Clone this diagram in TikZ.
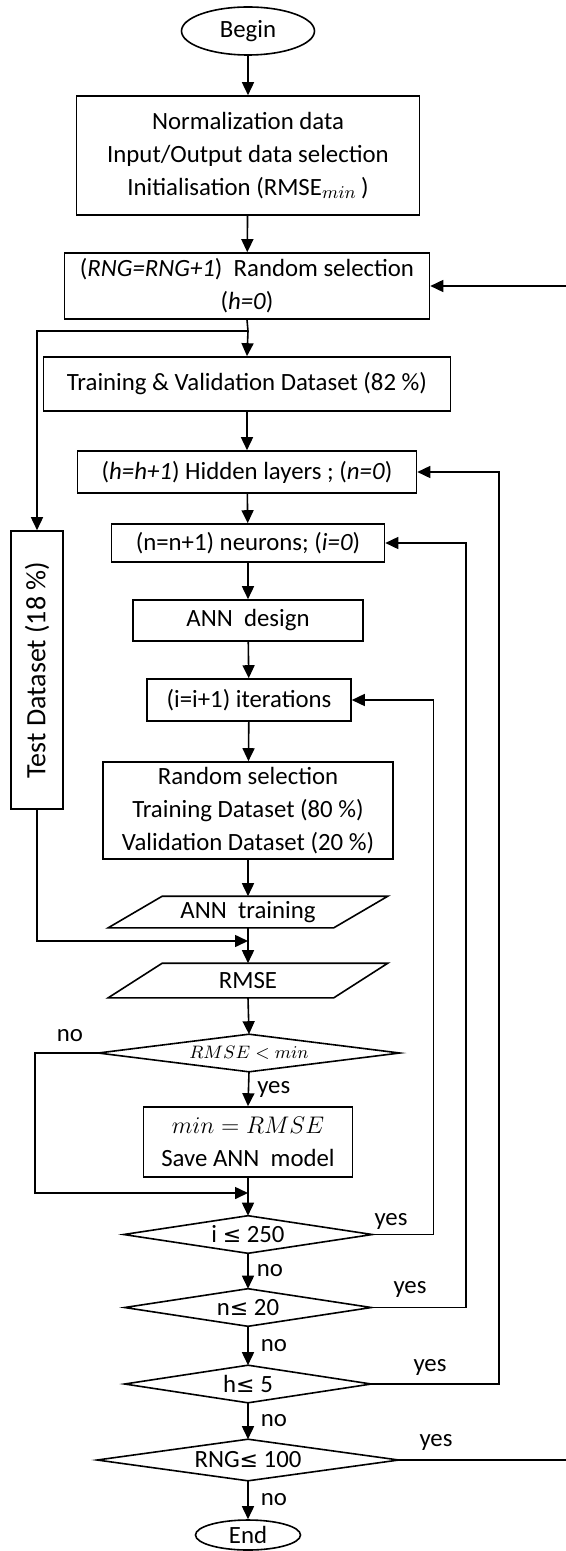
\documentclass[tikz,border=0pt]{standalone}
\usepackage{fontspec}
\setmainfont{Carlito}
\newfontfamily\symfont{DejaVu Sans}
\usetikzlibrary{shapes.geometric,arrows.meta,calc}

% less-or-equal sign taken from DejaVu Sans
\newcommand{\leqsym}{{\symfont\fontsize{11}{12}\selectfont ≤}}
% outline of a decision node through its four side anchors
\newcommand{\rhomb}[1]{\draw (#1.west) -- (#1.north) -- (#1.east) -- (#1.south) -- cycle;}
% outline of a data node, slanted by 27 units
\newcommand{\slab}[1]{\draw ($(#1.north west)+(27,0)$) -- ($(#1.north east)+(27,0)$)
   -- ($(#1.south east)+(-27,0)$) -- ($(#1.south west)+(-27,0)$) -- cycle;}

\begin{document}
\begin{tikzpicture}[x=0.5pt,y=-0.5pt,
  line width=0.8pt,
  font=\fontsize{12.4}{16.5}\selectfont,
  arr/.style={-{Triangle[length=6.5pt,width=6pt]}},
  box/.style={draw, rectangle, inner sep=0pt, align=center},
  term/.style={draw, ellipse, inner sep=0pt},
  cond/.style={rectangle, inner sep=0pt},
  para/.style={rectangle, inner sep=0pt},
  lbl/.style={inner sep=0pt}]

\useasboundingbox (0,0) rectangle (566,1551);

% terminals and process boxes
\node[term, minimum width=66.5pt, minimum height=24pt] (begin) at (248,31) {Begin};
\node[box, minimum width=171.5pt, minimum height=59.5pt] (init) at (248,155.5)
  {Normalization data\\Input/Output data selection\\Initialisation (RMSE$_{min}$\,)};
\node[box, minimum width=182.5pt, minimum height=33pt] (rng) at (247,286)
  {(\textit{RNG=RNG+1})\ \ Random selection\\(\textit{h=0})};
\node[box, minimum width=203.5pt, minimum height=27pt] (tv) at (247,384)
  {Training \& Validation Dataset (82 \%)};
\node[box, minimum width=169.5pt, minimum height=21pt] (hid) at (247,472)
  {(\textit{h=h+1}) Hidden layers ; (\textit{n=0})};
\node[box, minimum width=136.5pt, minimum height=19pt] (neu) at (248,543)
  {(n=n+1)\ neurons; (\textit{i=0})};
\node[box, minimum width=115pt, minimum height=20.5pt] (design) at (248,620.5)
  {ANN\ \ design};
\node[box, minimum width=102pt, minimum height=21pt] (iter) at (249,700)
  {(i=i+1) iterations};
\node[box, minimum width=145pt, minimum height=48.5pt] (rsel) at (248,810.5)
  {Random selection\\Training Dataset (80 \%)\\Validation Dataset (20 \%)};
\node[box, rotate=90, minimum width=139pt, minimum height=26pt,
      font=\fontsize{14}{16}\selectfont] (test) at (37,670)
  {Test Dataset (18 \%)};

% input/output parallelograms
\node[para, minimum width=112pt, minimum height=15pt] (train) at (248,912) {ANN\ \ training};
\slab{train}
\node[para, minimum width=112pt, minimum height=16.5pt] (rmse) at (248,980.5) {RMSE};
\slab{rmse}

% decisions
\node[cond, minimum width=150pt, minimum height=18pt] (d1) at (249,1053)
  {\raisebox{-1pt}{\fontsize{9.5}{11}\selectfont$RMSE < min$}};
\rhomb{d1}
\node[box, minimum width=104.5pt, minimum height=35pt] (save) at (248,1142)
  {\fontsize{12}{14}\selectfont$min = RMSE$\\Save ANN\ \ model};
\node[cond, minimum width=123.5pt, minimum height=18pt] (d2) at (248,1234.5)
  {\raisebox{-3pt}{i \leqsym\ 250}};
\rhomb{d2}
\node[cond, minimum width=122.5pt, minimum height=18pt] (d3) at (248,1307.5)
  {\raisebox{-3pt}{n\leqsym\ 20}};
\rhomb{d3}
\node[cond, minimum width=122.5pt, minimum height=18pt] (d4) at (248,1384)
  {\raisebox{-3pt}{h\leqsym\ 5}};
\rhomb{d4}
\node[cond, minimum width=150pt, minimum height=20pt] (d5) at (248,1460)
  {\raisebox{-3pt}{RNG\leqsym\ 100}};
\rhomb{d5}
\node[term, minimum width=52.5pt, minimum height=15pt] (end) at (248,1535) {End};

% junctions
\coordinate (j1) at (248,331);
\coordinate (j2) at (248,941);
\coordinate (j3) at (248,1193);

% main flow
\draw[arr] (begin) -- (init);
\draw[arr] (init) -- (rng);
\draw (rng.south) -- (j1);
\draw[arr] (j1) -- (tv.north);
\draw[arr] (j1) -| (test.east);
\draw[arr] (tv) -- (hid);
\draw[arr] (hid) -- (neu);
\draw[arr] (neu) -- (design);
\draw[arr] (design) -- (iter);
\draw[arr] (iter) -- (rsel);
\draw[arr] (rsel) -- (train.north);
\draw[arr] (test.west) |- (j2);
\draw[arr] (train.south) -- (rmse.north);
\draw[arr] (rmse.south) -- (d1.north);
\draw[arr] (d1.south) -- node[lbl, right=4pt, pos=0.5] {yes} (save.north);
\draw[arr] (d1.west) -- ++(-63,0) |- (j3);
\node[lbl] at (70,1036) {no};
\draw[arr] (save.south) -- (d2.north);
\draw[arr] (d2.south) -- node[lbl, right=4pt] {no} (d3.north);
\draw[arr] (d3.south) -- node[lbl, right=6pt] {no} (d4.north);
\draw[arr] (d4.south) -- node[lbl, right=6pt] {no} (d5.north);
\draw[arr] (d5.south) -- node[lbl, right=6pt] {no} (end.north);

% loops back
\draw[arr] (d2.east) -- ++(61,0) |- (iter.east);
\node[lbl] at (391,1221) {yes};
\draw[arr] (d3.east) -- ++(94.5,0) |- (neu.east);
\node[lbl] at (410,1289) {yes};
\draw[arr] (d4.east) -- ++(127.5,0) |- (hid.east);
\node[lbl] at (430,1367) {yes};
\draw[arr] (d5.east) -- ++(174,0) |- (rng.east);
\node[lbl] at (436,1442) {yes};

\end{tikzpicture}
\end{document}
